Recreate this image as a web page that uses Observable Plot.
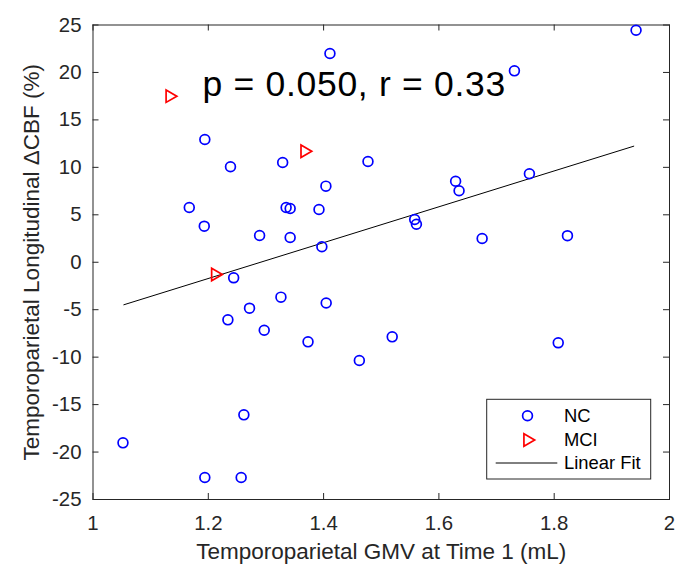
<!DOCTYPE html>
<html>
<head>
<meta charset="utf-8">
<script src="https://cdn.jsdelivr.net/npm/d3@7"></script>
<script src="https://cdn.jsdelivr.net/npm/@observablehq/plot@0.6"></script>
<style>
  html, body { margin: 0; padding: 0; background: #fff; }
</style>
</head>
<body>
<div id="chart"></div>
<script>
// NC group (blue circles)
const ncX = [1.411, 1.194, 1.2385, 1.329, 1.404, 1.167, 1.335, 1.342, 1.392, 1.193,
             1.289, 1.342, 1.397, 1.244, 1.942, 1.731, 1.477, 1.629, 1.635, 1.757,
             1.558, 1.561, 1.675, 1.823, 1.326, 1.4045, 1.2715, 1.234, 1.297, 1.373,
             1.2617, 1.052, 1.194, 1.257, 1.462, 1.519, 1.807];
const ncY = [22.0, 12.93, 10.06, 10.51, 8.02, 5.77, 5.77, 5.66, 5.56, 3.8,
             2.82, 2.61, 1.63, -1.64, 24.45, 20.17, 10.62, 8.54, 7.53, 9.32,
             4.5, 4.01, 2.5, 2.8, -3.68, -4.3, -4.84, -6.07, -7.16, -8.39,
             -16.08, -19.03, -22.68, -22.68, -10.35, -7.86, -8.49];
// MCI group (red right-pointing triangles)
const mciX = [1.133, 1.367, 1.212];
const mciY = [17.5, 11.7, -1.29];
// Linear fit endpoints
const fitX = [1.0535, 1.938];
const fitY = [-4.48, 12.23];
// Ticks
const xTicks = [1, 1.2, 1.4, 1.6, 1.8, 2];
const yTicks = [-25, -20, -15, -10, -5, 0, 5, 10, 15, 20, 25];
// Texts
const xLabel = "Temporoparietal GMV at Time 1 (mL)";
const yLabel = "Temporoparietal Longitudinal \u0394CBF (%)";
const annot = "p = 0.050, r = 0.33";
const annotPos = {x: 1.19, y: 17.55};
const legendLabels = ["NC", "MCI", "Linear Fit"];

const nc = ncX.map((x, i) => ({x, y: ncY[i]}));
const mci = mciX.map((x, i) => ({x, y: mciY[i]}));
const fit = fitX.map((x, i) => ({x, y: fitY[i]}));

const W = 700, H = 581;
const mL = 92.5, mR = 31, mT = 24.5, mB = 82;
const fw = W - mL - mR, fh = H - mT - mB;
const tick = 6;
const axisColor = "#262626";
const font = "'Liberation Sans', Arial, Helvetica, sans-serif";

const chart = Plot.plot({
  width: W, height: H,
  marginLeft: mL, marginRight: mR, marginTop: mT, marginBottom: mB,
  x: {domain: [1, 2]},
  y: {domain: [-25, 25]},
  style: {fontFamily: font, background: "#fff", color: axisColor},
  marks: [
    // inward tick marks on all four sides
    Plot.tickX(xTicks, {x: d => d, insetTop: fh - tick, stroke: axisColor, strokeWidth: 1}),
    Plot.tickX(xTicks, {x: d => d, insetBottom: fh - tick, stroke: axisColor, strokeWidth: 1}),
    Plot.tickY(yTicks, {y: d => d, insetRight: fw - tick, stroke: axisColor, strokeWidth: 1}),
    Plot.tickY(yTicks, {y: d => d, insetLeft: fw - tick, stroke: axisColor, strokeWidth: 1}),
    Plot.frame({stroke: axisColor, strokeWidth: 1}),
    Plot.axisX({ticks: xTicks, tickSize: 0, tickPadding: 16, tickFormat: d => String(d),
                fill: axisColor, fontSize: 20.4, label: null}),
    Plot.axisY({ticks: yTicks, tickSize: 0, tickPadding: 11.5, tickFormat: d => String(d),
                fill: axisColor, fontSize: 20.4, label: null}),
    Plot.text([xLabel], {frameAnchor: "bottom", dy: 52, lineAnchor: "middle", textAnchor: "middle",
                         fontSize: 22.5, fill: axisColor}),
    Plot.text([yLabel], {frameAnchor: "left", dx: -60.8, rotate: -90, lineAnchor: "middle",
                         textAnchor: "middle", fontSize: 22.5, fill: axisColor}),
    Plot.line(fit, {x: "x", y: "y", stroke: "#000", strokeWidth: 1}),
    Plot.dot(nc, {x: "x", y: "y", r: 4.9, stroke: "#0000ff", strokeWidth: 1.7, fill: "none"}),
    Plot.dot(mci, {x: "x", y: "y", r: 4.6, symbol: "triangle", rotate: 90,
                   stroke: "#ff0000", strokeWidth: 1.7, fill: "none"}),
    Plot.text([annot], {x: () => annotPos.x, y: () => annotPos.y, textAnchor: "start",
                        lineAnchor: "bottom", fontSize: 35.5, fill: "#000",
                        style: "letter-spacing: 0.7px"})
  ]
});

document.getElementById("chart").appendChild(chart);
// letter spacing for the annotation
d3.select(chart).selectAll("text").filter(function() { return this.textContent === annot; })
  .style("letter-spacing", "0.7px");

// Legend inside the axes (bottom-right)
const svg = d3.select(chart);
const xr = chart.scale("x").range, yr = chart.scale("y").range;
const bw = 164, bh = 79.7;
const bx = xr[1] - 182.3, by = yr[0] - 99.7;
const g = svg.append("g");
g.append("rect").attr("x", bx).attr("y", by).attr("width", bw).attr("height", bh)
  .attr("fill", "#fff").attr("stroke", axisColor).attr("stroke-width", 1);
const rows = [16.4, 40.7, 63.7];
const symX = bx + 40.8, txtX = bx + 77.3;
g.append("path").attr("d", d3.symbol(d3.symbolCircle, Math.PI * 4.9 * 4.9)())
  .attr("transform", `translate(${symX},${by + rows[0]})`)
  .attr("fill", "none").attr("stroke", "#0000ff").attr("stroke-width", 1.7);
g.append("path").attr("d", d3.symbol(d3.symbolTriangle, Math.PI * 4.6 * 4.6)())
  .attr("transform", `translate(${symX},${by + rows[1]}) rotate(90)`)
  .attr("fill", "none").attr("stroke", "#ff0000").attr("stroke-width", 1.7);
g.append("line").attr("x1", bx + 9).attr("x2", bx + 70.6)
  .attr("y1", by + rows[2]).attr("y2", by + rows[2])
  .attr("stroke", "#000").attr("stroke-width", 1);
legendLabels.forEach((t, i) => {
  g.append("text").attr("x", txtX).attr("y", by + rows[i]).attr("dy", "0.35em")
    .style("font-family", font).style("font-size", "18.4px")
    .style("text-anchor", "start").attr("fill", "#000").text(t);
});
</script>
</body>
</html>
